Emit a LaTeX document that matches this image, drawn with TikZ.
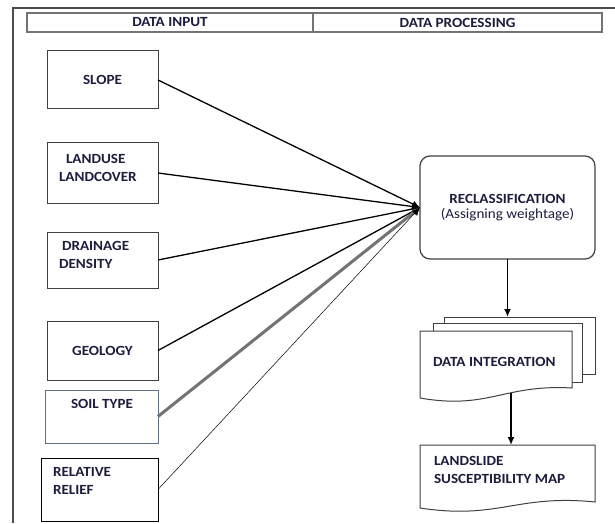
\documentclass[tikz,border=0pt]{standalone}
\usepackage{fontspec}
\setmainfont{Carlito}[FakeStretch=1.08]
\usepackage{tikz}
\usetikzlibrary{arrows.meta}
\usetikzlibrary{positioning}
\usetikzlibrary{calc}
\definecolor{inktext}{HTML}{1C1C3E}
\definecolor{soilframe}{HTML}{5F6F85}
\tikzset{
% Define standard arrow tip
>={Latex[length=8pt,width=7pt]}
}
% wavy bottom of a document box: node name, rise of the right end
\newcommand{\docoutline}[2]{%
  \draw[boxline, fill=white] (#1.south west)
    .. controls ($(#1.south west)!0.45!(#1.south east)+(0,-12)$) and ($(#1.south west)!0.55!(#1.south east)+(0,14)$) .. ([yshift=#2]#1.south east)
    -- (#1.north east) -- (#1.north west) -- cycle;}

\begin{document}
\begin{tikzpicture}[x=1pt, y=1pt, inner sep=0, outer sep=0,
  font=\fontsize{14}{18}\selectfont\bfseries, text=inktext,
  boxline/.style={draw=black!75, line width=1pt},
  headcell/.style={rectangle, draw=black!55, line width=1.2pt, minimum height=19pt},
  inbox/.style={rectangle, boxline, minimum width=111pt},
  feed/.style={->, line width=1.3pt},
  lbl/.style={align=left}]
  \useasboundingbox (0,0) rectangle (615,523);

  % frame and header
  \draw[line width=1.3pt, black!70] (13,0) -- (13,515) -- (615,515);
  \node[headcell, minimum width=286pt] (head-input) at (170,500.5) {DATA INPUT};
  \node[headcell, minimum width=289pt, anchor=west] (head-proc) at (head-input.east) {DATA PROCESSING};

  % input layers
  \node[inbox, minimum height=58pt] (slope) at (102.5,443) {SLOPE};
  \node[inbox, minimum height=60pt] (landuse) at (102.5,350) {};
  \node[lbl, anchor=west] (landuse-text) at (59,355) {\hspace{7pt}LANDUSE\\LANDCOVER};
  \node[inbox, minimum height=56pt] (drainage) at (102.5,263) {};
  \node[lbl, anchor=west] (drainage-text) at (59,268) {\hspace{3pt}DRAINAGE\\DENSITY};
  \node[inbox, minimum height=59pt] (geology) at (102.5,172.5) {GEOLOGY};
  \node[inbox, draw=soilframe, minimum width=113pt, minimum height=53pt] (soil) at (101.5,106.5) {};
  \node (soil-text) at (102,119) {SOIL TYPE};
  \node[inbox, draw=black, minimum width=117pt, minimum height=63pt] (relief) at (99.5,33.5) {};
  \node[lbl, anchor=west] (relief-text) at (53,42.5) {RELATIVE\\RELIEF};

  % processing
  \node[rectangle, rounded corners=10pt, boxline, line width=1.2pt,
    minimum width=175pt, minimum height=103pt, align=center,
    font=\fontsize{14}{15}\selectfont] (reclass) at (507.5,315.5)
    {\textbf{RECLASSIFICATION}\\(Assigning weightage)};

  \foreach \src in {slope, landuse, drainage, geology}
    \draw[feed] (\src.east) -- (reclass.west);
  \draw[->, line width=3pt, black!55] (soil.east) -- (reclass.west);
  \draw[->, line width=0.5pt] (relief.east) -- (reclass.west);

  \node[rectangle, boxline, fill=white, minimum width=151pt, minimum height=57pt] (integ-back) at (519.5,177.5) {};
  \node[rectangle, boxline, fill=white, minimum width=149pt, minimum height=59pt] (integ-mid) at (507.5,170.5) {};
  \node[rectangle, minimum width=152pt, minimum height=67pt] (integ) at (496,158.5) {};
  \docoutline{integ}{10pt}
  \node[anchor=west] (integ-text) at (433,161) {DATA INTEGRATION};

  \node[rectangle, minimum width=175pt, minimum height=63pt] (landslide) at (507.5,46.5) {};
  \docoutline{landslide}{6pt}
  \node[lbl, anchor=west] (landslide-text) at (434,53) {LANDSLIDE\\SUSCEPTIBILITY MAP};

  \coordinate (integ-wave) at ([xshift=15pt, yshift=5pt]integ.south);
  \draw[feed, line width=1.6pt] (reclass.south) -- (reclass.south |- integ-back.north);
  \draw[feed, line width=1.6pt] (integ-wave) -- (integ-wave |- landslide.north);
\end{tikzpicture}
\end{document}
